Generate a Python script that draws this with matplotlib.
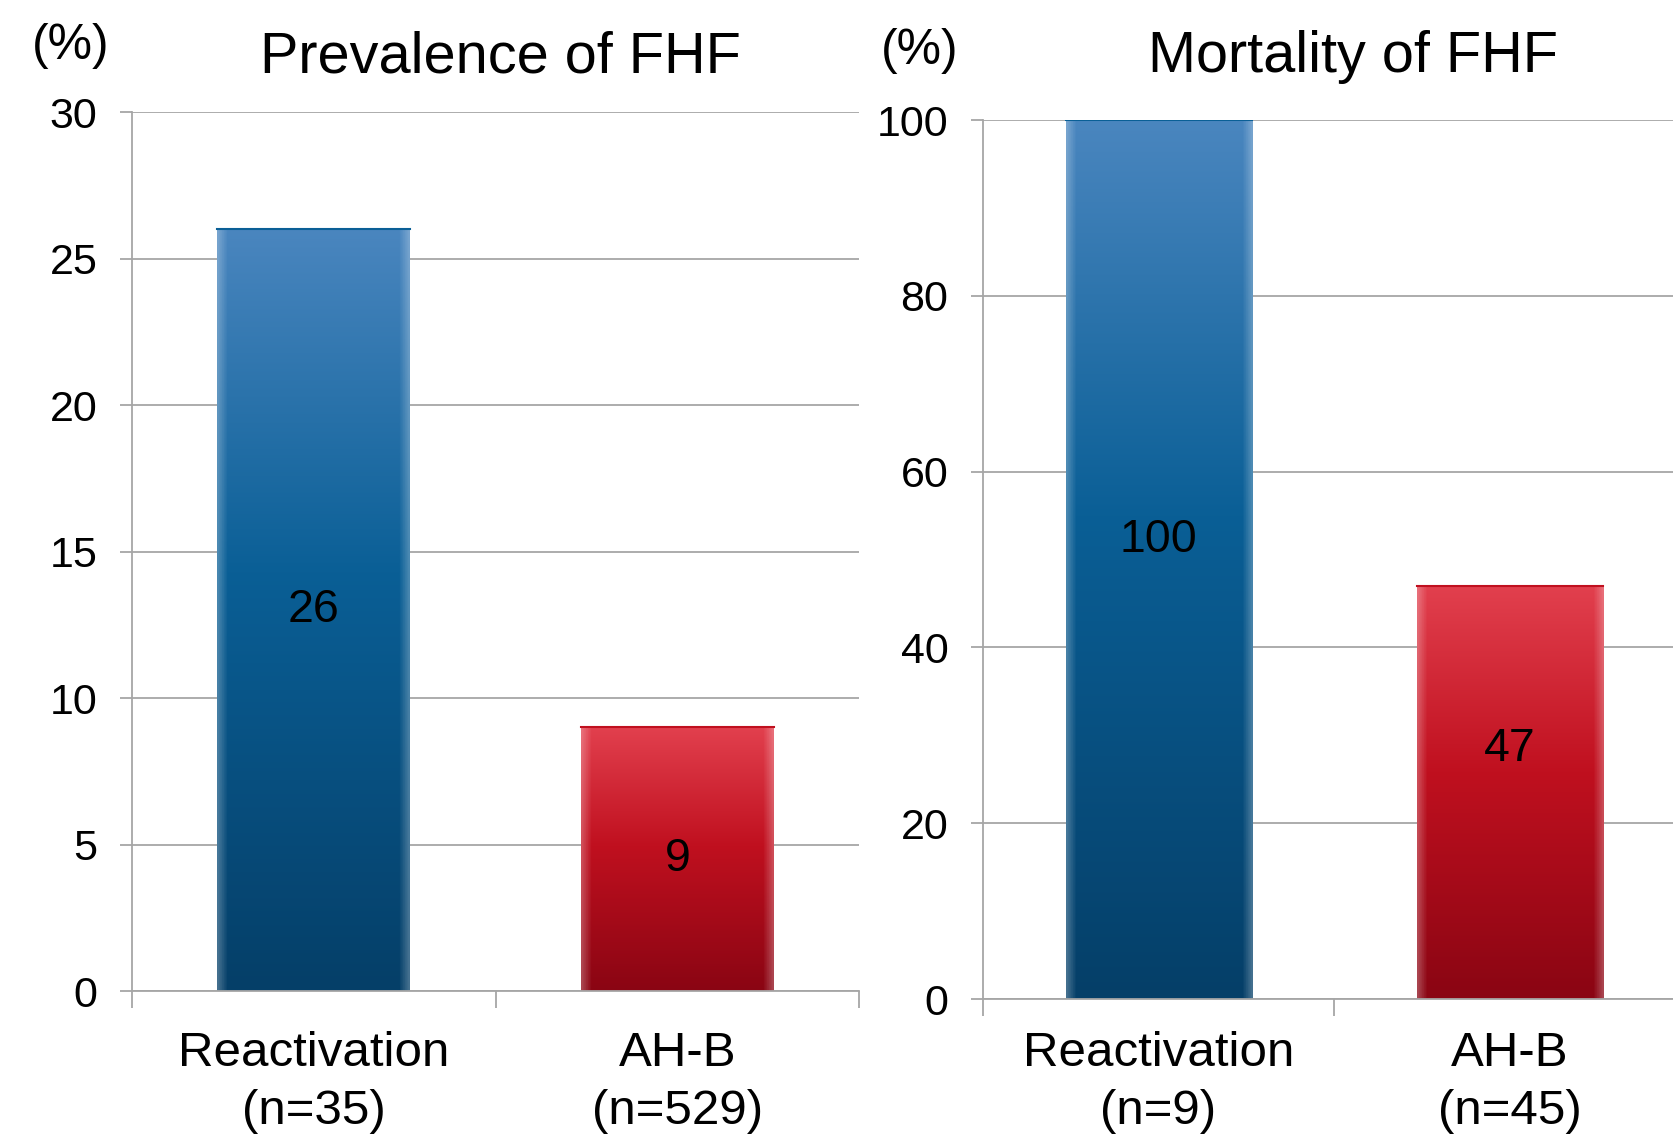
import numpy as np
import matplotlib.pyplot as plt
from matplotlib.colors import to_rgb

plt.rcParams['font.family'] = ['Liberation Sans', 'DejaVu Sans']

# data
groups_left = ["Reactivation\n(n=35)", "AH-B\n(n=529)"]
prevalence = [26, 9]
groups_right = ["Reactivation\n(n=9)", "AH-B\n(n=45)"]
mortality = [100, 47]

blue_stops = ["#4a86bf", "#0a5f96", "#053f68"]
red_stops = ["#e2404e", "#c0101f", "#8a0513"]

GRID = "#a6a6a6"


def gradient_img(stops, n=256, m=80):
    c = [np.array(to_rgb(s)) for s in stops]
    t = np.linspace(0, 1, n)[:, None]
    col = np.where(t < 0.45,
                   c[0] + (c[1] - c[0]) * (t / 0.45),
                   c[1] + (c[2] - c[1]) * ((t - 0.45) / 0.55))
    img = np.repeat(col[:, None, :], m, axis=1)
    # light bevel on the sides
    x = np.linspace(0, 1, m)
    edge = np.clip(1 - np.minimum(x, 1 - x) / 0.05, 0, 1) * 0.25
    img = img + (1 - img) * edge[None, :, None]
    return np.clip(img, 0, 1)


def draw_panel(ax, labels, values, ymax, step, label_shift, xpad):
    ax.set_xlim(-0.5, 1.5)
    ax.set_ylim(0, ymax)
    ax.set_axisbelow(True)
    ax.grid(axis="y", color=GRID, lw=1.3)
    width = 0.53
    bars = ax.bar(range(len(values)), values, width=width, color="none", zorder=2)
    for i, (b, v) in enumerate(zip(bars, values)):
        stops = blue_stops if i == 0 else red_stops
        im = ax.imshow(gradient_img(stops), aspect="auto", zorder=2,
                       extent=(i - width / 2, i + width / 2, 0, v))
        im.set_clip_path(b)
        ax.plot([i - width / 2, i + width / 2], [v, v], color=stops[1], lw=1.5, zorder=3)
        ax.annotate(f"{v}", (i, v / 2), xytext=(0, label_shift[i]),
                    textcoords="offset points", ha="center", va="center",
                    fontsize=33.5, zorder=4)
    ax.set_xlim(-0.5, 1.5)
    ax.set_ylim(0, ymax)

    ax.set_yticks(np.arange(0, ymax + 1, step))
    ax.tick_params(axis="y", length=9, color=GRID, width=1.3, labelsize=31, pad=16)
    ax.set_xticks([0, 1], labels)
    ax.tick_params(axis="x", which="major", length=0, labelsize=35.5, pad=xpad)
    ax.set_xticks([-0.5, 0.5, 1.5], minor=True)
    ax.tick_params(axis="x", which="minor", length=12, color=GRID, width=1.3)
    for lab in ax.get_xticklabels():
        lab.set_linespacing(1.36)
    for s in ("top", "right"):
        ax.spines[s].set_visible(False)
    for s in ("left", "bottom"):
        ax.spines[s].set_color(GRID)
        ax.spines[s].set_linewidth(1.3)


fig = plt.figure(figsize=(16.73, 11.42), dpi=100)
ax1 = fig.add_axes([0.0789, 0.1322, 0.4346, 0.7697])
ax2 = fig.add_axes([0.5876, 0.1252, 0.4196, 0.7697])

draw_panel(ax1, groups_left, prevalence, 30, 5, [0, 0], 29)
draw_panel(ax2, groups_right, mortality, 100, 20, [14, 31], 23)

fig.text(0.042, 0.960, "(%)", fontsize=36, ha="center", va="center")
fig.text(0.299, 0.950, "Prevalence of FHF", fontsize=41.5, ha="center", va="center")
fig.text(0.550, 0.955, "(%)", fontsize=36, ha="center", va="center")
fig.text(0.809, 0.950, "Mortality of FHF", fontsize=41.5, ha="center", va="center")

fig.savefig("out.png", dpi=100)
